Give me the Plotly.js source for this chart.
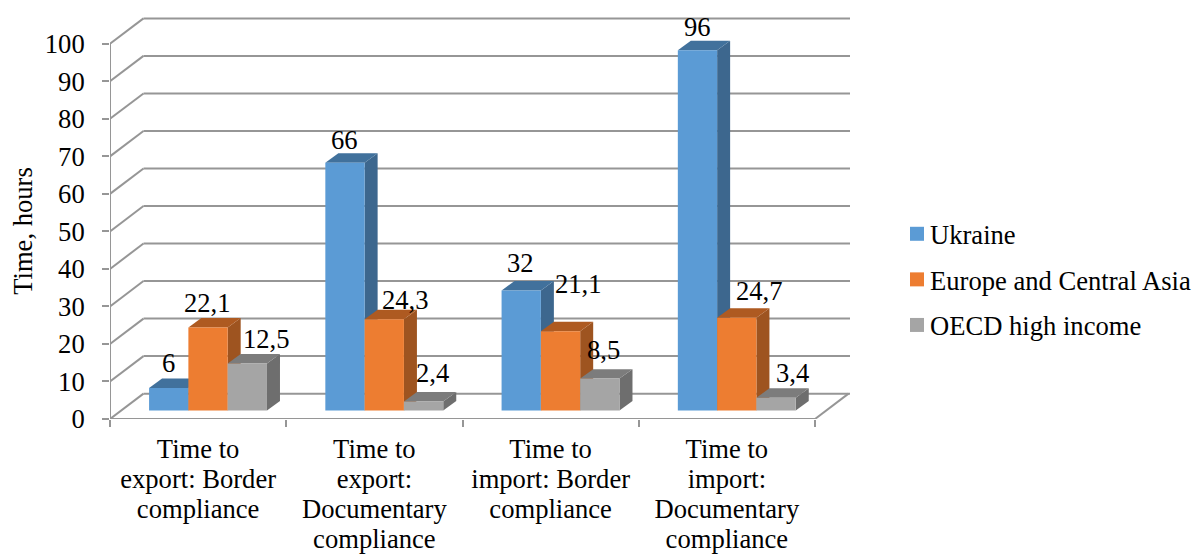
<!DOCTYPE html>
<html><head><meta charset="utf-8">
<script src="https://cdn.plot.ly/plotly-3.0.1.min.js"></script>
<style>html,body{margin:0;padding:0;background:#fff;overflow:hidden}</style>
</head><body><div id="chart" style="width:1194px;height:556px"></div>
<script>
const categories = [
  "Time to<br>export: Border<br>compliance",
  "Time to<br>export:<br>Documentary<br>compliance",
  "Time to<br>import: Border<br>compliance",
  "Time to<br>import:<br>Documentary<br>compliance"
];
const ukraine = [6, 66, 32, 96];
const europeCentralAsia = [22.1, 24.3, 21.1, 24.7];
const oecdHighIncome = [12.5, 2.4, 8.5, 3.4];
const seriesNames = ["Ukraine", "Europe and Central Asia", "OECD high income"];
const yTicks = [0,10,20,30,40,50,60,70,80,90,100];

const FONT = "'Liberation Serif','Times New Roman',serif";
const FS = 26.6, GRID = "#969696";
const PXX = 176.25, PXY = 3.757;       // px per axis unit
const L = 110, R = 344, T = 5, B = 136.5;
const xMin = -0.5, xMax = xMin + (1194 - L - R) / PXX;
const yMax = (556 - T - B) / PXY;
const px = v => v / PXX, py = v => v / PXY;

const colors = {
  front: ["#5B9BD5", "#ED7D31", "#A5A5A5"],
  side:  ["#3D678E", "#9E5420", "#6E6E6E"],
  top:   ["#41719C", "#AE5A21", "#7C7C7C"]
};
const series = [ukraine, europeCentralAsia, oecdHighIncome];
const base = py(8.5), shift = px(9.9), barW = px(39.3);
const depX = px(13), depY = py(9.5);
const backX = px(33.5), backY = py(25.4);
// label nudges in pixels, relative to the top centre of each bar front
const labelDx = [[0,-1,19],[0,21,9],[-1,18,4],[0,23,16]];
const labelDy = [[25,25,25],[23,19,29],[27,47,29],[23,27,25]];

const fmt = v => String(v).replace(".", ",");
const shapes = [];
const line = {color: GRID, width: 2};
const seg = (x0,y0,x1,y1) => shapes.push({type:"line",xref:"x",yref:"y",layer:"below",x0,y0,x1,y1,line});
yTicks.forEach(t => {
  seg(xMin, t, xMin + backX, t + backY);
  seg(xMin + backX, t + backY, xMax, t + backY);
});
seg(xMin, 0, xMin, 100);
seg(xMin, 0, 3.5, 0);
seg(3.5, 0, 3.5 + backX, backY);

const annotations = [];
categories.forEach((c, i) => {
  series.forEach((s, k) => {
    const x0 = i + shift + (k - 1.5) * barW, x1 = x0 + barW;
    const top = base + s[i];
    const poly = (pts, fill) => shapes.push({type:"path",xref:"x",yref:"y",layer:"below",
      path: "M" + pts.map(p => p[0] + "," + p[1]).join("L") + "Z", fillcolor: fill, line:{width:0}});
    poly([[x1,base],[x1+depX,base+depY],[x1+depX,top+depY],[x1,top]], colors.side[k]);
    poly([[x0,top],[x0+depX,top+depY],[x1+depX,top+depY],[x1,top]], colors.top[k]);
    annotations.push({xref:"x",yref:"y",x:(x0+x1)/2,y:top,text:fmt(s[i]),showarrow:false,
      xanchor:"center",yanchor:"middle",xshift:labelDx[i][k],yshift:labelDy[i][k],
      font:{family:FONT,size:FS,color:"#000"}});
  });
});

const xs = categories.map((c, i) => i + shift);
const traces = series.map((s, k) => ({
  type:"bar", name:seriesNames[k], x:xs, y:s, base:base,
  legendgroup:"g"+k, marker:{color:colors.front[k],line:{width:0}}, hoverinfo:"skip"
}));

const layout = {
  width:1194, height:556, margin:{l:L,r:R,t:T,b:B,pad:0},
  paper_bgcolor:"#fff", plot_bgcolor:"rgba(0,0,0,0)",
  barmode:"group", bargap:1 - 3*barW, bargroupgap:0,
  font:{family:FONT,size:FS,color:"#000"},
  xaxis:{range:[xMin,xMax],tickmode:"array",tickvals:[0,1,2,3],ticktext:categories,
    showgrid:false,zeroline:false,showline:false,ticks:"",ticklabelstandoff:11,
    tickfont:{family:FONT,size:FS,color:"#000"},tickangle:0,automargin:false,
    minor:{tickmode:"array",tickvals:[-0.5,0.5,1.5,2.5,3.5],ticks:"outside",ticklen:7,tickwidth:2,tickcolor:GRID,showgrid:false}},
  yaxis:{range:[0,yMax],tickmode:"array",tickvals:yTicks,showgrid:false,zeroline:false,showline:false,
    ticks:"outside",ticklen:7,tickwidth:2,tickcolor:GRID,ticklabelstandoff:12,
    tickfont:{family:FONT,size:FS,color:"#000"},automargin:false,
    title:{text:"Time, hours",font:{family:FONT,size:FS,color:"#000"},standoff:4}},
  showlegend:true,
  legend:{xref:"container",yref:"container",x:897/1194,y:1-210/556,xanchor:"left",yanchor:"top",
    font:{family:FONT,size:FS,color:"#000"},tracegroupgap:8,bgcolor:"rgba(0,0,0,0)",borderwidth:0},
  shapes, annotations
};
Plotly.newPlot("chart", traces, layout, {displayModeBar:false,staticPlot:true}).then(() => {
  // the original centres its axis title on the 0-100 span, sets legend text closer
  // to the swatches and uses a tighter line spacing in its category labels
  const yt = document.querySelector(".ytitle");
  if (yt) yt.setAttribute("transform", "translate(0,19) " + (yt.getAttribute("transform") || ""));
  document.querySelectorAll(".legendtext").forEach(t => t.setAttribute("x", 33));
  document.querySelectorAll(".legendpoints path").forEach(p => p.setAttribute("d", "M7,7H-7V-7H7Z"));
  document.querySelectorAll(".xtick text").forEach(t => {
    t.querySelectorAll("tspan.line").forEach((s, i) => s.setAttribute("dy", (i * 1.13) + "em"));
  });
});
</script></body></html>
